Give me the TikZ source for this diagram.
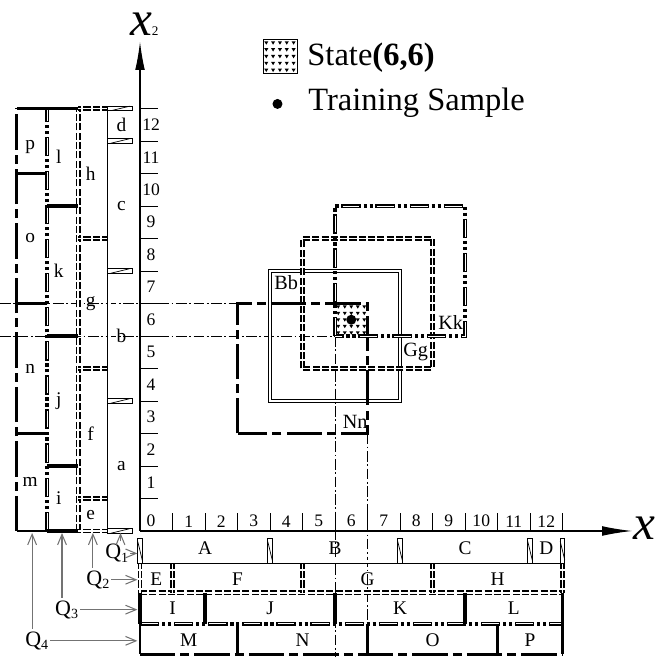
\documentclass[tikz,border=0pt]{standalone}
\usepackage{fontspec}
\setmainfont{Liberation Serif}
\usetikzlibrary{arrows.meta}

\newcommand\qsub[1]{\raisebox{-2pt}{\fontsize{8}{8}\selectfont #1}}

\tikzset{
  qone/.style={double, double distance=1.6pt, line width=0.5pt},
  qtwo/.style={double, double distance=1.1pt, line width=0.75pt, dash pattern=on 4pt off 1.3pt},
  qthree/.style={line width=2.4pt, dash pattern=on 11pt off 1.6pt on 1.8pt off 1.6pt on 1.8pt off 1.6pt,
    postaction={draw=white, line width=0.45pt, dash pattern=on 9.6pt off 9.8pt, dash phase=18.7pt}},
  qfour/.style={line width=1.6pt, dash pattern=on 20pt off 3pt on 5pt off 3pt},
  qthreebar/.style={line width=2pt},
  qfourbar/.style={line width=1.6pt},
  qmark/.style={line width=0.5pt, fill=white},
  guide/.style={line width=0.4pt, dash pattern=on 6pt off 1.5pt on 1pt off 1.5pt},
  qarrow/.style={draw=black!55, line width=0.6pt, -{Straight Barb[length=6pt,width=5pt]}},
  tripat/.pic={
    \foreach \i in {0,...,4} \foreach \j in {0,...,4}
      \fill ({0.1+0.2*\i-0.06},{0.9-0.2*\j+0.04}) -- ++(0.12,0) -- ++(-0.06,-0.1) -- cycle;
  }
}

\begin{document}
\begin{tikzpicture}[x=0.65cm, y=0.65cm,
    every node/.style={inner sep=0pt},
    lab/.style={font=\fontsize{11}{11}\selectfont},
    sqlab/.style={font=\fontsize{11.5}{11.5}\selectfont},
    num/.style={font=\fontsize{10}{10}\selectfont},
    big/.style={font=\fontsize{18.5}{18.5}\selectfont},
    qlab/.style={font=\fontsize{12.5}{12.5}\selectfont, anchor=west}]
  \useasboundingbox (-4.308,-3.877) rectangle (15.938,16.338);

  % guide lines through the state (6,6)
  \draw[guide] (-4.3,7) -- (3,7);
  \draw[guide] (-4.3,6) -- (6,6);
  \draw[guide] (6,6) -- (6,-3.88);
  \draw[guide] (7,3) -- (7,-3.88);

  % axes
  \coordinate (o) at (0,0);
  \coordinate (xend) at (15.14,0);
  \coordinate (yend) at (0,15.05);
  \draw[line width=0.6pt, -{Latex[length=17pt,width=5.5pt]}] (o) -- (xend);
  \draw[line width=0.6pt, -{Latex[length=16pt,width=5.5pt]}] (o) -- (yend);
  \foreach \k in {1,...,13} {
    \draw[line width=0.4pt] (\k,0) -- (\k,0.55);
    \draw[line width=0.4pt] (0,\k) -- (0.55,\k);
  }
  \node[num] (n0) at (0.34,0.32) {0};
  \foreach \k in {1,...,12} {
    \node[num] (nx\k) at (\k+0.5,0.3) {\k};
    \node[num] (ny\k) at (0.34,\k+0.5) {\k};
  }
  \node[font=\fontsize{28}{28}\selectfont\itshape] (xlab) at (15.52,0.1) {x};
  \node[font=\fontsize{28}{28}\selectfont] (ylab) at (0.13,15.58) {\textit{x}{\fontsize{7.5}{7.5}\selectfont 2}};

  % quantization Q2
  \draw[qtwo] (0,-1.9) -- (13,-1.9);
  \draw[qtwo] (-1.9,0) -- (-1.9,13);
  \foreach \t in {0,1,5,9,13} {
    \draw[qtwo] (\t,-0.95) -- (\t,-1.9);
    \draw[qtwo] (-0.95,\t) -- (-1.9,\t);
  }
  % quantization Q3
  \draw[qthree] (0,-2.85) -- (13,-2.85);
  \draw[qthree] (-2.85,0) -- (-2.85,13);
  \foreach \t in {0,2,6,10,13} {
    \draw[qthreebar] (\t,-1.9) -- (\t,-2.85);
    \draw[qthreebar] (-1.9,\t) -- (-2.85,\t);
  }
  % quantization Q4
  \draw[qfour] (0,-3.8) -- (13,-3.8);
  \draw[qfour] (-3.8,0) -- (-3.8,13);
  \foreach \t in {0,3,7,11,13} {
    \draw[qfourbar] (\t,-2.85) -- (\t,-3.8);
    \draw[qfourbar] (-2.85,\t) -- (-3.8,\t);
  }
  % quantization Q1
  \draw[qone] (0,-0.95) -- (13,-0.95);
  \draw[qone] (-0.95,0) -- (-0.95,13);
  \foreach \t in {0,4,8,12,13} {
    \draw[qmark] (\t-0.07,-0.24) rectangle (\t+0.07,-1.0);
    \draw[line width=0.4pt] (\t-0.07,-0.32) -- (\t+0.07,-0.9);
    \draw[qmark] (-1.0,\t-0.07) rectangle (-0.24,\t+0.07);
    \draw[line width=0.4pt] (-0.9,\t-0.07) -- (-0.32,\t+0.07);
  }

  % block labels
  \foreach \n/\p in {A/2,B/6,C/10,D/12.5} \node[lab] (r\n) at (\p,-0.52) {\n};
  \foreach \n/\p in {E/0.5,F/3,G/7,H/11} \node[lab] (r\n) at (\p,-1.48) {\n};
  \foreach \n/\p in {I/1,J/4,K/8,L/11.5} \node[lab] (r\n) at (\p,-2.38) {\n};
  \foreach \n/\p in {M/1.5,N/5,O/9,P/12} \node[lab] (r\n) at (\p,-3.35) {\n};
  \foreach \n/\p in {a/2,b/6,c/10,d/12.5} \node[lab] (c\n) at (-0.57,\p) {\n};
  \foreach \n/\p in {e/0.5,f/3,g/7,h/11} \node[lab] (c\n) at (-1.52,\p) {\n};
  \foreach \n/\p in {i/1,j/4,k/8,l/11.5} \node[lab] (c\n) at (-2.5,\p) {\n};
  \foreach \n/\p in {m/1.5,n/5,o/9,p/11.8} \node[lab] (c\n) at (-3.38,\p) {\n};

  % receptive fields
  \draw[qone] (4,4) rectangle (8,8);
  \draw[qtwo] (5,5) rectangle (9,9);
  \draw[qfour] (3,3) rectangle (7,7);
  \draw[qthree] (6,6) rectangle (10,10);
  \pic at (6,6) {tripat};
  \node[circle, fill, minimum size=0.2cm] (sample) at (6.5,6.5) {};
  \node[sqlab] (bb) at (4.5,7.63) {Bb};
  \node[sqlab] (gg) at (8.48,5.5) {Gg};
  \node[sqlab] (kk) at (9.56,6.4) {Kk};
  \node[sqlab] (nn) at (6.62,3.35) {Nn};

  % Q labels
  \node[qlab] (q1) at (-1.08,-0.69) {Q\qsub{1}};
  \node[qlab] (q2) at (-1.66,-1.5) {Q\qsub{2}};
  \node[qlab] (q3) at (-2.62,-2.42) {Q\qsub{3}};
  \node[qlab] (q4) at (-3.54,-3.38) {Q\qsub{4}};
  \coordinate (rowin) at (-0.08,0);
  \coordinate (c1in) at (-0.6,-0.06);
  \coordinate (c2in) at (-1.45,-0.06);
  \coordinate (c3in) at (-2.4,-0.06);
  \coordinate (c4in) at (-3.32,-0.06);
  \foreach \q in {1,2,3,4} {
    \draw[qarrow] ([xshift=1pt]q\q.east) -- (q\q.east -| rowin);
    \draw[qarrow] ([yshift=1.5pt]q\q.north -| c\q in) -- (c\q in);
  }

  % legend
  \draw[line width=0.4pt] (3.78,14.08) rectangle (4.83,15.12);
  \pic[scale=1.05] at (3.78,14.08) {tripat};
  \node[big, anchor=base west] (state) at (5.14,14.31) {State\textbf{(6,6)}};
  \node[circle, fill, minimum size=0.2cm] (dotkey) at (4.23,13.14) {};
  \node[big, anchor=base west] (train) at (5.17,12.95) {Training Sample};
\end{tikzpicture}
\end{document}
